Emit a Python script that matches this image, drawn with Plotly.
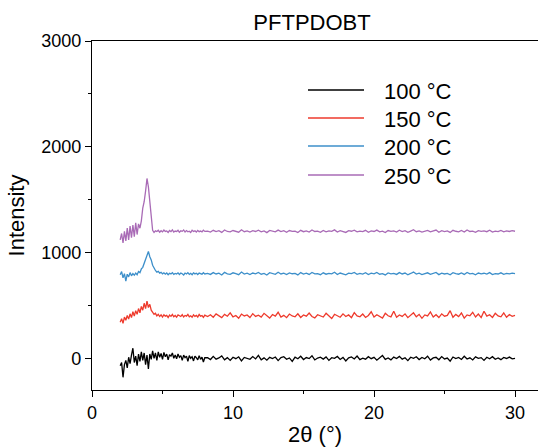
import plotly.graph_objects as go

# sampling grid of 2θ (degrees)
x_lo = [round(2.0 + 0.1 * i, 1) for i in range(61)]     # 2.0 .. 8.0
x_hi = [round(8.2 + 0.2 * i, 1) for i in range(110)]    # 8.2 .. 30.0

series_names = ["100 °C", "150 °C", "200 °C", "250 °C"]
series_colors = ["#000000", "#ee3a2c", "#3d8fca", "#a96bb6"]

i100_lo = [-70, -40, -180, -60, -20, -90, 10, -50, 30, 95,
           -40, 20, -70, 40, -30, 60, -20, 50, -60, 30,
           -100, 40, -10, 70, 0, 50, -20, 60, 10, 45,
           -10, 55, 15, 40, -15, 35, 20, 50, 0, 30,
           -5, 40, 10, 25, -20, 30, 5, 20, -30, 25,
           0, 15, -25, 20, 5, -15, 25, -10, 10, -35,
           5]
i100_hi = [5, -12, 18, -8, 3, 22, -15, 6, -20, 10,
           -4, 14, -25, 8, 2, -10, 16, -6, 28, -14,
           4, -18, 9, -2, 12, -22, 6, 15, -9, 3,
           -30, 11, -5, 19, -12, 7, -3, 24, -16, 2,
           10, -8, 13, -20, 5, -1, 17, -11, 8, -26,
           4, 12, -7, 21, -13, 1, -9, 15, -4, 9,
           -18, 6, 26, -10, 3, -15, 11, -2, 18, -8,
           5, -22, 10, 0, 14, -12, 7, -5, 20, -17,
           3, 9, -14, 16, -6, 2, -28, 12, -3, 8,
           -11, 19, -7, 4, -16, 13, -1, 6, -20, 10,
           -5, 15, -9, 3, -13, 8, -2, 11, -6, 0]

i150_lo = [340, 375, 330, 390, 360, 405, 370, 420, 385, 440,
           400, 450, 415, 470, 430, 490, 455, 520, 470, 540,
           480, 510, 455, 430, 415, 425, 400, 415, 395, 410,
           390, 412, 398, 405, 385, 408, 396, 415, 392, 404,
           388, 410, 400, 395, 412, 390, 405, 398, 415, 392,
           402, 388, 410, 396, 405, 390, 414, 398, 403, 386,
           408]
i150_hi = [395, 412, 388, 420, 401, 385, 415, 398, 430, 392,
           405, 378, 418, 400, 410, 385, 422, 396, 408, 390,
           425, 402, 380, 414, 398, 435, 390, 406, 384, 418,
           400, 392, 420, 386, 410, 398, 428, 395, 382, 412,
           404, 390, 425, 398, 376, 416, 402, 388, 420, 395,
           410, 384, 432, 400, 392, 418, 386, 405, 440, 390,
           412, 398, 380, 425, 402, 392, 445, 388, 410, 396,
           420, 384, 405, 430, 392, 415, 378, 410, 400, 438,
           390, 412, 385, 420, 398, 405, 450, 388, 415, 394,
           428, 380, 410, 402, 435, 390, 418, 385, 445, 398,
           412, 386, 425, 400, 392, 430, 388, 414, 396, 405]

i200_lo = [790, 820, 760, 800, 730, 795, 770, 810, 780, 800,
           785, 805, 790, 820, 810, 845, 860, 900, 940, 990,
           1010, 960, 930, 880, 850, 830, 815, 822, 805, 812,
           798, 808, 795, 806, 790, 804, 798, 810, 793, 802,
           796, 808, 792, 805, 799, 788, 806, 797, 810, 794,
           803, 790, 808, 798, 804, 792, 806, 800, 795, 809,
           797]
i200_hi = [802, 793, 810, 797, 805, 788, 812, 799, 794, 808,
           800, 790, 815, 796, 804, 792, 806, 798, 811, 795,
           803, 787, 809, 800, 794, 813, 797, 805, 791, 807,
           799, 802, 788, 810, 796, 804, 793, 812, 798, 801,
           790, 808, 795, 803, 799, 814, 792, 806, 797, 789,
           805, 800, 811, 794, 802, 796, 809, 791, 804, 798,
           812, 795, 801, 788, 807, 799, 803, 793, 810, 797,
           806, 790, 802, 815, 796, 804, 792, 800, 808, 794,
           799, 811, 791, 805, 797, 803, 789, 809, 800, 795,
           807, 793, 812, 798, 802, 790, 806, 799, 804, 796,
           810, 792, 801, 797, 808, 794, 803, 798, 805, 800]

i250_lo = [1120, 1180, 1090, 1200, 1110, 1230, 1120, 1250, 1140, 1260,
           1150, 1280, 1170, 1270, 1230, 1300, 1420, 1480, 1580, 1700,
           1620, 1480, 1350, 1210, 1190, 1205, 1198, 1210, 1192, 1206,
           1195, 1212, 1199, 1204, 1190, 1208, 1197, 1214, 1193, 1203,
           1198, 1210, 1191, 1205, 1200, 1213, 1194, 1207, 1196, 1202,
           1190, 1211, 1199, 1205, 1193, 1209, 1197, 1203, 1195, 1212,
           1200]
i250_hi = [1203, 1194, 1210, 1198, 1206, 1190, 1213, 1199, 1195, 1208,
           1201, 1192, 1215, 1197, 1205, 1193, 1207, 1199, 1211, 1196,
           1204, 1188, 1209, 1201, 1195, 1212, 1198, 1206, 1192, 1208,
           1200, 1203, 1189, 1210, 1197, 1205, 1194, 1213, 1199, 1202,
           1191, 1209, 1196, 1204, 1200, 1214, 1193, 1207, 1198, 1190,
           1206, 1201, 1211, 1195, 1203, 1197, 1210, 1192, 1205, 1199,
           1212, 1196, 1202, 1189, 1208, 1200, 1204, 1194, 1211, 1198,
           1207, 1191, 1203, 1215, 1197, 1205, 1193, 1201, 1209, 1195,
           1200, 1212, 1192, 1206, 1198, 1204, 1190, 1210, 1201, 1196,
           1208, 1194, 1213, 1199, 1203, 1191, 1207, 1200, 1205, 1197,
           1211, 1193, 1202, 1198, 1209, 1195, 1204, 1199, 1206, 1201]

x_ticks = [0, 10, 20, 30]
y_ticks = [0, 1000, 2000, 3000]

FONT = "Liberation Sans, Arial, Helvetica, sans-serif"
W, H = 538, 447
L, R, T, B = 92, 0, 41, 57

xs = x_lo + x_hi
ys = [i100_lo + i100_hi, i150_lo + i150_hi, i200_lo + i200_hi, i250_lo + i250_hi]

fig = go.Figure()
for name, color, y in zip(series_names, series_colors, ys):
    fig.add_trace(go.Scatter(x=xs, y=y, mode="lines", name=name,
                             line=dict(color=color, width=1.3), showlegend=False))

# custom legend (long line samples like the reference)
pw, ph = W - L - R, H - T - B
def px2paper_x(px):
    return (px - L) / pw
def px2paper_y(py):
    return (H - B - py) / ph

leg_rows = [90, 118, 146, 175]
for name, color, py in zip(series_names, series_colors, leg_rows):
    fig.add_shape(type="line", xref="paper", yref="paper",
                  x0=px2paper_x(308), x1=px2paper_x(364),
                  y0=px2paper_y(py), y1=px2paper_y(py),
                  line=dict(color=color, width=1.5))
    fig.add_annotation(xref="paper", yref="paper", x=px2paper_x(382), y=px2paper_y(py + 1),
                       text=name, showarrow=False, xanchor="left", yanchor="middle",
                       font=dict(family=FONT, size=22, color="black"))

axis_common = dict(showline=True, linecolor="black", linewidth=1.3, showgrid=False,
                   zeroline=False, ticks="outside", ticklen=6, tickwidth=1.3,
                   tickcolor="black", automargin=False,
                   tickfont=dict(family=FONT, size=18, color="black"))

fig.update_layout(
    width=W, height=H,
    margin=dict(l=L, r=R, t=T, b=B, autoexpand=False),
    paper_bgcolor="white", plot_bgcolor="white",
    title=dict(text="PFTPDOBT", x=px2paper_x(312), xref="paper", xanchor="center",
               y=1 - 22 / H, yref="container", yanchor="middle",
               font=dict(family=FONT, size=22, color="black")),
    xaxis=dict(range=[0, 31.63], tickvals=x_ticks, mirror=True,
               minor=dict(dtick=5, tick0=0, ticks="outside", ticklen=3, tickwidth=1.3, tickcolor="black"),
               title=dict(text="2θ (°)", standoff=4, font=dict(family=FONT, size=22, color="black")),
               **axis_common),
    yaxis=dict(range=[-300, 3000], tickvals=y_ticks,
               minor=dict(dtick=500, tick0=0, ticks="outside", ticklen=3, tickwidth=1.3, tickcolor="black"),
               title=dict(text="Intensity", standoff=10, font=dict(family=FONT, size=22, color="black")),
               **axis_common),
)

fig.write_html("out.html", config={"displayModeBar": False},
               post_script="document.body.style.margin='0';document.body.style.overflow='hidden';")
